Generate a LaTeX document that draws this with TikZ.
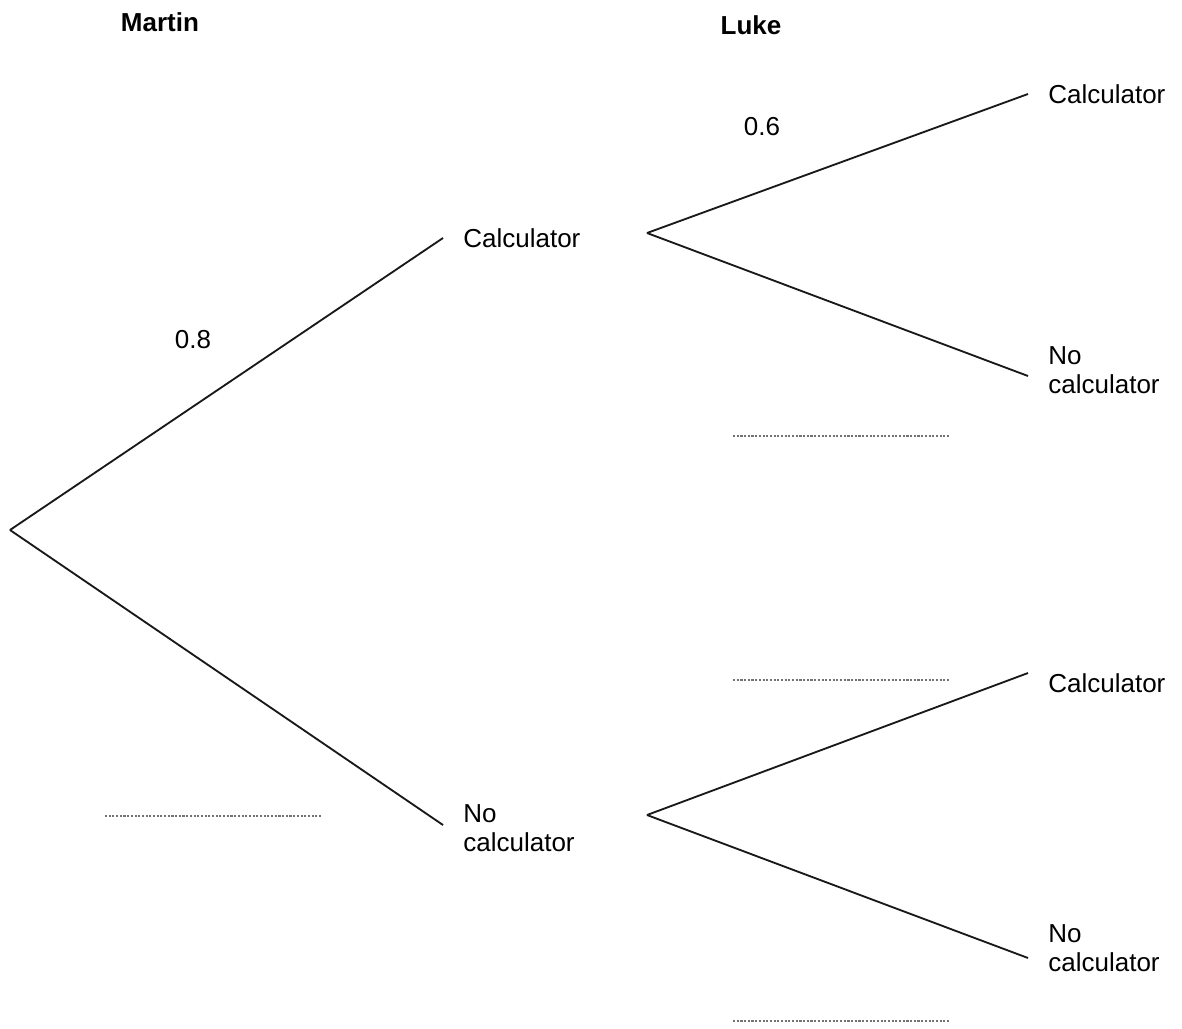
\documentclass[tikz,border=0pt]{standalone}
\usepackage{fontspec}
\setmainfont{Liberation Sans}
\usetikzlibrary{positioning, calc}

\begin{document}
\begin{tikzpicture}[
    x=0.02cm, y=-0.02cm,
    % --- STYLES ---
    branch/.style={
            draw=black!90,
            line width=1.05pt
        },
    outcome/.style={
            anchor=west,
            align=left,
            inner xsep=0.4cm,
            inner ysep=0pt,
            font=\fontsize{14.8}{16.6}\selectfont
        },
    head/.style={
            font=\fontsize{14.8}{16.6}\selectfont\bfseries
        },
    prob/.style={
            font=\fontsize{14.8}{16.6}\selectfont
        },
    blank/.style={
            draw=black!55,
            line width=0.7pt,
            dash pattern=on 1.2pt off 0.9pt
        }
    ]
    \useasboundingbox (0,0) rectangle (1182,1028);

    % --- HEADINGS ---
    \node[head] (martin) at (160,22) {Martin};
    \node[head] (luke) at (751,25) {Luke};

    % --- FIRST STAGE (Martin) ---
    \coordinate (root) at (10,530);
    \node[outcome] (mcalc) at (443,238) {Calculator};
    \node[outcome] (mnocalc) at (443,828) {No\\calculator};

    \draw[branch] (root) -- (mcalc.west);
    \draw[branch] (root) -- ($(mnocalc.west)+(0,-3)$);

    \node[prob] (pmartin) at (193,340) {0.8};
    \draw[blank] (105,816) -- (322,816);

    % --- SECOND STAGE (Luke) ---
    \coordinate (lup) at (647,233);
    \coordinate (ldown) at (647,815);

    \node[outcome] (cc) at (1028,94) {Calculator};
    \node[outcome] (cn) at (1028,370) {No\\calculator};
    \node[outcome] (nc) at (1028,683) {Calculator};
    \node[outcome] (nn) at (1028,948) {No\\calculator};

    \draw[branch] (lup) -- (cc.west);
    \draw[branch] (lup) -- ($(cn.west)+(0,6)$);
    \draw[branch] (ldown) -- ($(nc.west)+(0,-10)$);
    \draw[branch] (ldown) -- ($(nn.west)+(0,10)$);

    \node[prob] (pluke) at (762,127) {0.6};

    % --- BLANKS ---
    \draw[blank] (733,436) -- (950,436);
    \draw[blank] (733,680) -- (950,680);
    \draw[blank] (733,1021) -- (950,1021);

\end{tikzpicture}
\end{document}
